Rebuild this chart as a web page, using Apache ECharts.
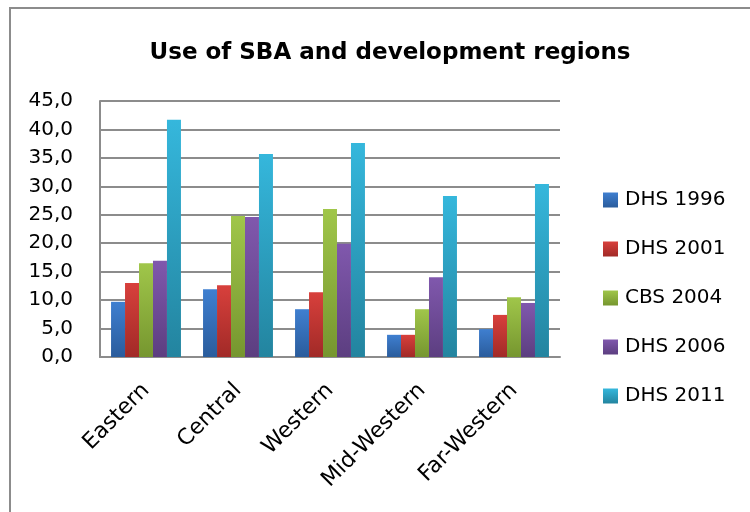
<!DOCTYPE html>
<html>
<head>
<meta charset="utf-8">
<script src="https://cdn.jsdelivr.net/npm/echarts@6/dist/echarts.min.js"></script>
<style>
  html, body { margin: 0; padding: 0; background: #fff; }
  #chart { width: 750px; height: 512px; }
</style>
</head>
<body>
<div id="chart"></div>
<script>
// regions and survey values (% use of SBA)
var regions = ['Eastern', 'Central', 'Western', 'Mid-Western', 'Far-Western']
var dhs1996 = [9.7, 11.9, 8.4, 3.9, 4.9]
var dhs2001 = [13.0, 12.6, 11.4, 3.9, 7.4]
var cbs2004 = [16.5, 24.8, 26.0, 8.4, 10.5]
var dhs2006 = [16.9, 24.6, 19.9, 14.0, 9.5]
var dhs2011 = [41.7, 35.7, 37.6, 28.3, 30.4]
var seriesNames = ['DHS 1996', 'DHS 2001', 'CBS 2004', 'DHS 2006', 'DHS 2011']

var font = 'DejaVu Sans'
var colors = [
  ['#3f7fd0', '#2a5c9c'],
  ['#d8403c', '#a12a27'],
  ['#a0c64a', '#76962f'],
  ['#8058ad', '#5c3e80'],
  ['#35b7dc', '#23849f']
]

function grad (c) {
  return new echarts.graphic.LinearGradient(0, 0, 0, 1, [
    { offset: 0, color: c[0] },
    { offset: 1, color: c[1] }
  ])
}

var allData = [dhs1996, dhs2001, cbs2004, dhs2006, dhs2011]
var series = []
for (var i = 0; i < allData.length; i++) {
  series.push({
    name: seriesNames[i],
    type: 'bar',
    data: allData[i],
    barGap: '0%',
    barCategoryGap: '24%',
    itemStyle: { color: grad(colors[i]) }
  })
}

var chart = echarts.init(document.getElementById('chart'))
chart.setOption({
  animation: false,
  color: colors.map(function (c) { return c[0] }),
  title: {
    text: 'Use of SBA and development regions',
    left: 385,
    textAlign: 'center',
    top: 37,
    textStyle: { fontFamily: font, fontSize: 23, fontWeight: 'bold', color: '#000' }
  },
  legend: {
    orient: 'vertical',
    left: 598,
    top: 185,
    itemWidth: 15,
    itemHeight: 15,
    itemGap: 29,
    icon: 'rect',
    textStyle: { fontFamily: font, fontSize: 20, color: '#000', padding: [0, 0, 0, 2] },
    data: seriesNames
  },
  grid: { left: 100, right: 190, top: 101, bottom: 155 },
  xAxis: {
    type: 'category',
    data: regions,
    axisLine: { lineStyle: { color: '#8c8c8c', width: 2 } },
    axisTick: { show: false },
    axisLabel: {
      rotate: 45,
      margin: 30,
      fontFamily: font,
      fontSize: 22,
      color: '#000'
    }
  },
  yAxis: {
    type: 'value',
    min: 0,
    max: 45,
    interval: 5,
    axisLine: { show: true, lineStyle: { color: '#8c8c8c', width: 2 } },
    axisTick: { show: false },
    splitLine: { lineStyle: { color: '#8c8c8c', width: 2 } },
    axisLabel: {
      margin: 27,
      fontFamily: font,
      fontSize: 20,
      color: '#000',
      formatter: function (v) { return v.toFixed(1).replace('.', ',') }
    }
  },
  graphic: [{
    type: 'rect',
    shape: { x: 10, y: 8, width: 760, height: 520 },
    style: { fill: 'none', stroke: '#8c8c8c', lineWidth: 2 },
    z: -1
  }],
  series: series
})
</script>
</body>
</html>
